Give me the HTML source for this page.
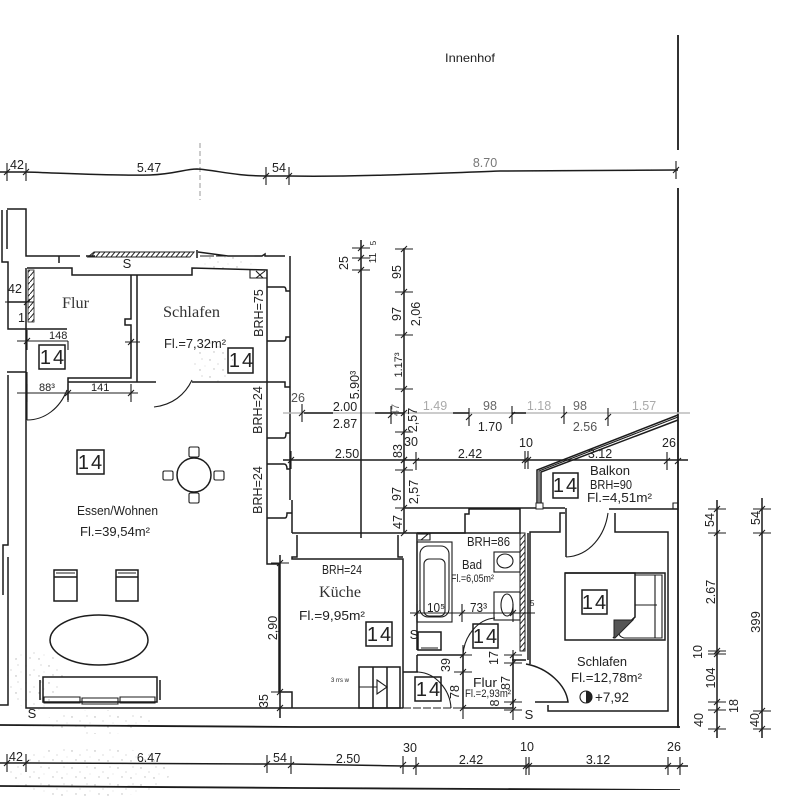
<!DOCTYPE html>
<html lang="de">
<head>
<meta charset="utf-8">
<title>Grundriss</title>
<style>
html,body{margin:0;padding:0;background:#fff;width:785px;height:800px;overflow:hidden}
svg{display:block}
text{font-family:"Liberation Sans",sans-serif}
.m{text-anchor:middle}
.f{font-family:"Liberation Serif",serif;font-size:16px;fill:#333}
.b{font-size:20px;letter-spacing:2px}
.g{fill:#aaa}
.l{fill:none;stroke:#1c1c1c;stroke-width:1.5}
.t{fill:none;stroke:#1c1c1c;stroke-width:1.1}
.w{fill:none;stroke:#1c1c1c;stroke-width:1.8}
</style>
</head>
<body>
<svg width="785" height="800" viewBox="0 0 785 800" xmlns="http://www.w3.org/2000/svg">
<defs>
<g id="v"><path class="t" d="M0-9V9M-3 3L3-3"/></g>
<g id="h"><path class="t" d="M-9 0H9M-3 3L3-3"/></g>
<pattern id="sp" width="23" height="17" patternUnits="userSpaceOnUse">
<circle cx="3" cy="3" r=".7" fill="#aaa"/><circle cx="11" cy="7" r=".6" fill="#bbb"/><circle cx="18" cy="2" r=".6" fill="#bbb"/><circle cx="7" cy="12" r=".7" fill="#b5b5b5"/><circle cx="16" cy="13" r=".7" fill="#aaa"/><circle cx="21" cy="9" r=".5" fill="#ccc"/>
</pattern>
<pattern id="hw" width="5" height="6" patternUnits="userSpaceOnUse"><path d="M0 6L5 0" stroke="#222" stroke-width="1"/></pattern>
<filter id="sc" x="0" y="0" width="100%" height="100%"><feGaussianBlur stdDeviation=".35"/></filter>
</defs>
<rect width="785" height="800" fill="#fff"/>
<g opacity=".9">
<ellipse cx="90" cy="772" rx="80" ry="26" fill="url(#sp)"/>
<ellipse cx="35" cy="680" rx="28" ry="30" fill="url(#sp)"/>
<ellipse cx="100" cy="722" rx="55" ry="12" fill="url(#sp)"/>
<ellipse cx="213" cy="360" rx="20" ry="22" fill="url(#sp)"/>
<ellipse cx="225" cy="262" rx="28" ry="7" fill="url(#sp)"/>
</g>
<g filter="url(#sc)" font-size="12.5" fill="#222">

<!-- outer lines -->
<path class="w" d="M678 35V150M678 188V728"/>
<path class="w" d="M0 725L300 727H680M0 786L300 788L680 790"/>
<path d="M200 143V200" stroke="#999" stroke-width="1" stroke-dasharray="5 3" fill="none"/>

<!-- top dim -->
<path class="l" d="M0 172H26C60 173 110 176 150 175C175 174 185 169 197 169C215 170 235 176 266 176H289C350 177 420 174 500 171L678 170"/>
<use href="#v" x="7" y="172"/><use href="#v" x="26" y="172"/><use href="#v" x="266" y="176"/><use href="#v" x="289" y="176"/><use href="#v" x="676" y="170"/>
<text class="m" x="17" y="169">42</text><text class="m" x="149" y="172">5.47</text><text class="m" x="279" y="172">54</text><text class="m" x="485" y="167" fill="#777">8.70</text>
<text class="m" x="470" y="62" font-size="12" textLength="50" lengthAdjust="spacingAndGlyphs">Innenhof</text>

<!-- far-left walls -->
<path class="l" d="M2 210V262H8V302M7 210V249M7 209H26V256H80M95 256H86M7 372H26M8 375V545H3V595M8 557V705H0"/>
<path class="l" d="M59 256V263"/>
<path class="l" d="M27 268H72V275H192V268L267 270V564H279V692H292V708M26 268V373M26 372V708H403"/>
<path class="l" d="M8 302H27M8 302V329H67"/>
<rect x="28" y="270" width="6" height="52" fill="url(#hw)" stroke="#222" stroke-width=".8"/>
<!-- top hatched band -->
<path d="M88 257L94 252H194L190 257Z" fill="url(#hw)" stroke="#222" stroke-width="1"/>
<path class="l" d="M197 250V258M198 252L228 256H262L265 254V256H285"/>
<path class="t" stroke-dasharray="14 2" d="M200 256H262"/>
<text class="m" x="127" y="268" font-size="13">S</text>
<path class="t" d="M250 270V278H267M256 271L263 278M256 278L265 271"/>

<!-- Flur / Schlafen interior -->
<path class="l" d="M131 275V319H125V325H131V378H68V400M137 275V382M68 382H156M192 382H285V387H290"/>
<path class="t" d="M27 420C45 420 60 408 67 390M27 372V420"/>
<path class="t" d="M154 407C172 405 185 395 192 380"/>
<!-- window niches -->
<path class="l" d="M267 287H284Q286 287 286 291H290M267 341H284Q286 341 286 337H290M267 438H284Q286 438 286 433H290M267 464H284Q287 464 287 469H290M267 518H285Q287 518 287 513H292M290 256V500M292 500V533"/>

<!-- wall cluster kitchen -->
<path class="l" d="M292 533H465V514H469V509H520V514H520V533M297 535V557H292V559H403V708M398 535V557H403"/>
<path class="l" d="M405 508H565M566 508V557M565 513H560V532H530V664M609 509H678M615 513V532H668V711H548V705M417 533V650M417 655V672M417 655H463V708M403 672H418M528 533V660M417 533H520M512 660H526M463 708H513M513 655V708M526 664C548 668 566 685 568 702H535"/>
<path class="t" d="M566 557C590 556 605 535 608 513"/>
<path class="t" d="M418 672C436 673 450 690 451 708"/>
<path class="t" d="M463 655C464 636 478 619 495 618"/>
<path class="t" d="M403 708H463" stroke-dasharray="8 2"/>
<rect x="520" y="533" width="5" height="118" fill="url(#hw)" stroke="#222" stroke-width="1"/>
<path class="t" d="M418 534H430V540H418M428 534L421 540"/>

<!-- balcony -->
<path class="l" d="M537 505V470L678 415M541 505V472L678 420"/>
<path class="t" d="M539 505V471L678 417"/>
<rect x="536" y="503" width="7" height="6" fill="#fff" stroke="#222" stroke-width="1"/>
<path class="t" d="M673 509V503H678"/>

<!-- bath fixtures -->
<rect x="417" y="542" width="35" height="80" class="t"/>
<rect x="420" y="546" width="29" height="71" rx="8" class="t"/>
<rect x="424" y="559" width="21" height="57" rx="5" class="t"/>
<rect x="494" y="552" width="26" height="20" class="t"/>
<ellipse cx="505" cy="561" rx="8" ry="7" class="t"/>
<rect x="494" y="592" width="26" height="28" class="t"/>
<ellipse cx="507" cy="605" rx="6" ry="11" class="t"/>
<rect x="418" y="632" width="23" height="18" class="l"/>
<path class="t" d="M421 648H438"/>

<!-- kitchen unit -->
<path class="l" d="M359 667H400V708H359ZM373 667V708M387 667V708"/>
<path class="t" d="M359 687H377M377 680L387 687L377 694Z"/>
<text x="331" y="682" font-size="6">3 rrs w</text>

<!-- table & chairs -->
<circle cx="194" cy="475" r="17" class="l"/>
<rect x="189" y="447" width="10" height="10" rx="1.5" class="t"/><rect x="189" y="493" width="10" height="10" rx="1.5" class="t"/>
<rect x="163" y="471" width="10" height="9" rx="1.5" class="t"/><rect x="214" y="471" width="10" height="9" rx="1.5" class="t"/>
<!-- armchairs -->
<path class="l" d="M54 570H77V601H54ZM54 577H77M116 570H138V601H116ZM116 577H138"/>
<path class="t" d="M56 573H75M118 573H136"/>
<ellipse cx="99" cy="640" rx="49" ry="25" class="l"/>
<!-- sofa -->
<path class="l" d="M43 677H157V702H43ZM40 680V700M160 680V700"/>
<path class="t" d="M44 697H80V703H44ZM82 698H118V704H82ZM120 697H155V703H120Z"/>
<!-- bed -->
<rect x="565" y="573" width="100" height="67" class="l"/>
<path class="l" d="M565 573H635V617L613 638"/>
<path class="t" d="M635 575H662V638H624Q617 636 620 630L635 617M635 605H657M655 575V638"/>
<path d="M614 620H633L615 638H614Z" fill="#555" stroke="#222"/>

<!-- 14 boxes -->
<rect x="39" y="345" width="26" height="24" class="l" fill="#fff"/><text class="m b" x="53" y="364">14</text>
<rect x="228" y="348" width="25" height="25" class="l"/><text class="m b" x="242" y="367">14</text>
<rect x="77" y="450" width="27" height="24" class="l"/><text class="m b" x="91" y="469">14</text>
<rect x="366" y="622" width="26" height="24" class="l"/><text class="m b" x="380" y="641">14</text>
<rect x="415" y="677" width="26" height="24" class="l"/><text class="m b" x="429" y="696">14</text>
<rect x="473" y="624" width="25" height="24" class="l"/><text class="m b" x="486" y="643">14</text>
<rect x="553" y="473" width="25" height="25" class="l"/><text class="m b" x="566" y="492">14</text>
<rect x="582" y="590" width="25" height="24" class="l"/><text class="m b" x="595" y="609">14</text>

<!-- room labels -->
<text class="f" x="62" y="308" textLength="27" lengthAdjust="spacingAndGlyphs">Flur</text>
<text class="f" x="163" y="317" textLength="57" lengthAdjust="spacingAndGlyphs">Schlafen</text>
<text class="f" x="319" y="597" textLength="42" lengthAdjust="spacingAndGlyphs">Küche</text>
<text x="164" y="348" textLength="62" lengthAdjust="spacingAndGlyphs">Fl.=7,32m²</text>
<text x="77" y="515" textLength="81" lengthAdjust="spacingAndGlyphs">Essen/Wohnen</text>
<text x="80" y="536" textLength="70" lengthAdjust="spacingAndGlyphs">Fl.=39,54m²</text>
<text x="322" y="574" textLength="40" lengthAdjust="spacingAndGlyphs">BRH=24</text>
<text x="299" y="620" textLength="66" lengthAdjust="spacingAndGlyphs">Fl.=9,95m²</text>
<text x="467" y="546" textLength="43" lengthAdjust="spacingAndGlyphs">BRH=86</text>
<text x="462" y="569" textLength="20" lengthAdjust="spacingAndGlyphs">Bad</text>
<text x="451" y="582" font-size="11" textLength="43" lengthAdjust="spacingAndGlyphs">Fl.=6,05m²</text>
<text x="470" y="612" textLength="17" lengthAdjust="spacingAndGlyphs">73³</text>
<text x="427" y="612" textLength="18" lengthAdjust="spacingAndGlyphs">10⁵</text>
<text x="473" y="687" textLength="24" lengthAdjust="spacingAndGlyphs">Flur</text>
<text x="465" y="697" font-size="11" textLength="46" lengthAdjust="spacingAndGlyphs">Fl.=2,93m²</text>
<text x="590" y="475" textLength="40" lengthAdjust="spacingAndGlyphs">Balkon</text>
<text x="590" y="489" textLength="42" lengthAdjust="spacingAndGlyphs">BRH=90</text>
<text x="587" y="502" textLength="65" lengthAdjust="spacingAndGlyphs">Fl.=4,51m²</text>
<text x="577" y="666" textLength="50" lengthAdjust="spacingAndGlyphs">Schlafen</text>
<text x="571" y="682" textLength="71" lengthAdjust="spacingAndGlyphs">Fl.=12,78m²</text>
<circle cx="586" cy="697" r="6" class="t"/><path d="M586 697V691A6 6 0 0 1 586 703Z" fill="#222"/>
<text x="595" y="702" font-size="14" textLength="34" lengthAdjust="spacingAndGlyphs">+7,92</text>
<text class="m" x="32" y="718" font-size="13">S</text>
<text class="m" x="414" y="639" font-size="13">S</text>
<text class="m" x="529" y="719" font-size="13">S</text>
<text class="m" transform="rotate(-90 263 313)" x="263" y="313">BRH=75</text>
<text class="m" transform="rotate(-90 262 410)" x="262" y="410">BRH=24</text>
<text class="m" transform="rotate(-90 262 490)" x="262" y="490">BRH=24</text>

<!-- small flur dims -->
<path class="t" d="M5 302H33M17 341H68M17 393H138M68 341V350M27 330V350M68 384V402M27 384V402M131 384V402M131 333V350M125 342H140"/>
<path class="t" d="M24 305L30 299M24 344L30 338M65 396L71 390M128 396L134 390M128 345L134 339"/>
<text x="8" y="293" font-size="12.5">42</text><text x="18" y="322" font-size="12.5">1</text>
<text x="49" y="339" font-size="11">148</text><text x="39" y="391" font-size="11">88³</text><text x="91" y="391" font-size="11">141</text>

<!-- mid horizontal dim light -->
<path d="M283 413H690" stroke="#bbb" stroke-width="1.4" fill="none"/>
<path class="l" d="M304 413H333M375 413H404M453 413H469M512 413H526"/>
<use href="#v" x="302" y="413"/><use href="#v" x="391" y="415"/><use href="#v" x="469" y="417"/><use href="#v" x="512" y="415"/><use href="#v" x="564" y="415"/><use href="#v" x="608" y="417"/><use href="#v" x="404" y="413"/>
<text class="m" x="298" y="402" fill="#555">26</text><text class="m" x="345" y="411">2.00</text><text class="m g" x="435" y="410">1.49</text><text class="m" x="490" y="410" fill="#666">98</text><text class="m g" x="539" y="410">1.18</text><text class="m" x="580" y="410" fill="#666">98</text><text class="m g" x="644" y="410">1.57</text>
<text class="m" x="345" y="428">2.87</text><text class="m" x="490" y="431">1.70</text><text class="m" x="585" y="431" fill="#555">2.56</text>

<!-- second horizontal dim -->
<path class="l" d="M283 460H688"/>
<use href="#v" x="291" y="460"/><use href="#v" x="404" y="460"/><use href="#v" x="416" y="461"/><use href="#v" x="525" y="460"/><use href="#v" x="528" y="460"/><use href="#v" x="667" y="461"/><use href="#v" x="678" y="461"/>
<text class="m" x="347" y="458">2.50</text><text class="m" x="411" y="446">30</text><text class="m" x="470" y="458">2.42</text><text class="m" x="526" y="447">10</text><text class="m" x="600" y="458">3.12</text><text class="m" x="669" y="447">26</text>

<!-- vertical dims -->
<path class="l" d="M361 240V538M404 248V533"/>
<use href="#h" x="361" y="248"/><use href="#h" x="361" y="258"/><use href="#h" x="361" y="270"/><use href="#h" x="404" y="249"/><use href="#h" x="404" y="292"/><use href="#h" x="404" y="335"/><use href="#h" x="404" y="389"/><use href="#h" x="404" y="432"/><use href="#h" x="404" y="460"/><use href="#h" x="404" y="470"/><use href="#h" x="404" y="508"/><use href="#h" x="404" y="533"/>
<g>
<text class="m" transform="rotate(-90 348 263)" x="348" y="263">25</text>
<text class="m" transform="rotate(-90 376 258)" x="376" y="258" font-size="10">11</text>
<text class="m" transform="rotate(-90 376 243)" x="376" y="243" font-size="8">5</text>
<text class="m" transform="rotate(-90 359 385)" x="359" y="385">5.90³</text>
<text class="m" transform="rotate(-90 401 272)" x="401" y="272">95</text>
<text class="m" transform="rotate(-90 401 314)" x="401" y="314">97</text>
<text class="m" transform="rotate(-90 420 314)" x="420" y="314">2,06</text>
<text class="m" transform="rotate(-90 402 365)" x="402" y="365" font-size="11">1.17³</text>
<text class="m" transform="rotate(-90 399 410)" x="399" y="410" font-size="11" fill="#666">47</text>
<text class="m" transform="rotate(-90 417 420)" x="417" y="420">2,57</text>
<text class="m" transform="rotate(-90 402 451)" x="402" y="451">83</text>
<text class="m" transform="rotate(-90 401 494)" x="401" y="494">97</text>
<text class="m" transform="rotate(-90 418 492)" x="418" y="492">2,57</text>
<text class="m" transform="rotate(-90 402 522)" x="402" y="522">47</text>
<text class="m" transform="rotate(-90 277 628)" x="277" y="628">2,90</text>
<text class="m" transform="rotate(-90 268 701)" x="268" y="701">35</text>
</g>
<path class="l" d="M280 555V718"/>
<use href="#h" x="280" y="563"/><use href="#h" x="280" y="692"/><use href="#h" x="280" y="708"/>

<!-- bath/flur dims -->
<path class="t" d="M410 613H535M463 645V719M513 650V720"/>
<use href="#v" x="417" y="613"/><use href="#v" x="462" y="613"/><use href="#v" x="513" y="613"/>
<use href="#h" x="463" y="655"/><use href="#h" x="463" y="672"/><use href="#h" x="463" y="708"/><use href="#h" x="513" y="655"/><use href="#h" x="513" y="663"/><use href="#h" x="513" y="702"/><use href="#h" x="513" y="710"/>
<text class="m" transform="rotate(-90 450 665)" x="450" y="665">39</text>
<text class="m" transform="rotate(-90 459 692)" x="459" y="692">78</text>
<text class="m" transform="rotate(-90 510 683)" x="510" y="683">87</text>
<text class="m" transform="rotate(-90 498 658)" x="498" y="658">17</text>
<text class="m" transform="rotate(-90 499 703)" x="499" y="703">8</text>
<text x="530" y="606" font-size="8">5</text>

<!-- bottom dim -->
<path class="l" d="M0 763H26L267 764H291L403 766H529L680 766H688"/>
<use href="#v" x="7" y="763"/><use href="#v" x="26" y="763"/><use href="#v" x="267" y="764"/><use href="#v" x="291" y="765"/><use href="#v" x="403" y="765"/><use href="#v" x="416" y="766"/><use href="#v" x="526" y="766"/><use href="#v" x="529" y="766"/><use href="#v" x="668" y="766"/><use href="#v" x="680" y="766"/>
<text class="m" x="16" y="761">42</text><text class="m" x="149" y="762">6.47</text><text class="m" x="280" y="762">54</text><text class="m" x="348" y="763">2.50</text><text class="m" x="410" y="752">30</text><text class="m" x="471" y="764">2.42</text><text class="m" x="527" y="751">10</text><text class="m" x="598" y="764">3.12</text><text class="m" x="674" y="751">26</text>

<!-- right dims -->
<path class="l" d="M717 500V738M762 498V738"/>
<use href="#h" x="717" y="509"/><use href="#h" x="717" y="533"/><use href="#h" x="717" y="651"/><use href="#h" x="717" y="654"/><use href="#h" x="717" y="702"/><use href="#h" x="717" y="710"/><use href="#h" x="717" y="729"/>
<use href="#h" x="762" y="509"/><use href="#h" x="762" y="533"/><use href="#h" x="762" y="711"/><use href="#h" x="762" y="729"/>
<g>
<text class="m" transform="rotate(-90 714 520)" x="714" y="520">54</text>
<text class="m" transform="rotate(-90 715 592)" x="715" y="592">2.67</text>
<text class="m" transform="rotate(-90 702 652)" x="702" y="652">10</text>
<text class="m" transform="rotate(-90 715 678)" x="715" y="678">104</text>
<text class="m" transform="rotate(-90 738 706)" x="738" y="706">18</text>
<text class="m" transform="rotate(-90 703 720)" x="703" y="720">40</text>
<text class="m" transform="rotate(-90 760 518)" x="760" y="518">54</text>
<text class="m" transform="rotate(-90 760 622)" x="760" y="622" font-size="13">399</text>
<text class="m" transform="rotate(-90 759 720)" x="759" y="720">40</text>
</g>
</g>
</svg>
</body>
</html>
